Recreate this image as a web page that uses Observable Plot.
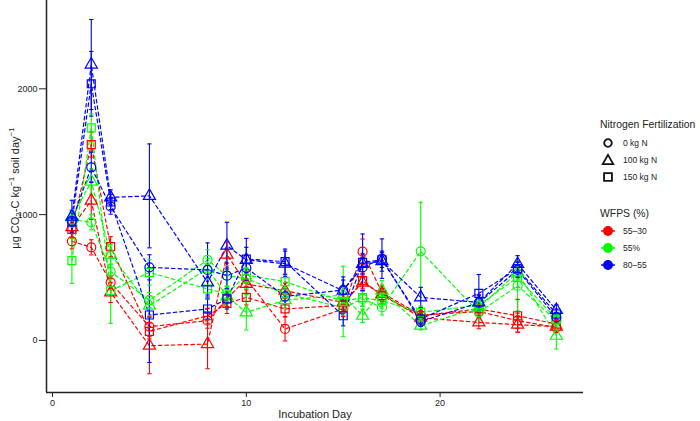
<!DOCTYPE html>
<html>
<head>
<meta charset="utf-8">
<script src="https://cdn.jsdelivr.net/npm/d3@7"></script>
<script src="https://cdn.jsdelivr.net/npm/@observablehq/plot@0.6"></script>
<style>
  html, body { margin: 0; padding: 0; background: #fff; }
  #chart { width: 700px; height: 421px; }
</style>
</head>
<body>
<div id="chart"></div>
<script>
// ---- data ----
const days = [1, 2, 3, 5, 8, 9, 10, 12, 15, 16, 17, 19, 22, 24, 26];
const wfpsLevels = ["55–30", "55%", "80–55"];
const wfpsColors = ["#ff0000", "#00ff00", "#0000ff"];
const nLevels = ["0 kg N", "100 kg N", "150 kg N"];
const nSymbols = ["circle", "triangle", "square"];
const xTicks = [0, 10, 20];
const yTicks = [0, 1000, 2000];

// means (µg CO2-C kg-1 soil day-1)
const w5530_n0   = [788, 740, 461, 110, 157, 330, 490, 91, 250, 706, 380, 200, 230, 157, 103];
const w5530_n100 = [900, 1111, 382, -42, -29, 682, 449, 395, 302, 460, 369, 180, 143, 125, 110];
const w5530_n150 = [883, 1557, 745, 72, 196, 294, 342, 250, 280, 475, 356, 196, 250, 196, 130];
const w55_n0     = [960, 939, 547, 321, 640, 515, 490, 374, 260, 330, 262, 708, 223, 435, 157];
const w55_n100   = [980, 1262, 682, 276, 570, 350, 223, 320, 360, 196, 395, 117, 262, 541, 37];
const w55_n150   = [634, 1690, 395, 541, 409, 369, 520, 467, 310, 340, 316, 223, 280, 501, 170];
const w8055_n0   = [950, 1376, 1063, 581, 560, 515, 576, 350, 400, 581, 650, 150, 300, 560, 183];
const w8055_n100 = [984, 2193, 1137, 1149, 461, 753, 640, 610, 395, 608, 630, 342, 302, 608, 242];
const w8055_n150 = [940, 2040, 1100, 202, 250, 330, 647, 626, 196, 621, 640, 170, 374, 570, 210];

// standard errors
const e5530_n0   = [60, 60, 50, 80, 60, 60, 60, 95, 60, 100, 60, 50, 50, 60, 40];
const e5530_n100 = [80, 150, 80, 223, 196, 100, 80, 60, 60, 60, 60, 50, 50, 60, 40];
const e5530_n150 = [70, 100, 80, 60, 60, 80, 60, 60, 60, 60, 60, 40, 40, 130, 40];
const e55_n0     = [60, 60, 60, 60, 80, 80, 80, 60, 60, 60, 60, 390, 60, 200, 50];
const e55_n100   = [60, 100, 80, 80, 80, 60, 140, 60, 60, 53, 80, 34, 50, 60, 105];
const e55_n150   = [180, 110, 260, 100, 80, 60, 60, 60, 280, 60, 60, 50, 50, 80, 50];
const e8055_n0   = [80, 120, 60, 100, 215, 100, 100, 60, 80, 80, 157, 40, 60, 60, 40];
const e8055_n100 = [130, 358, 60, 413, 100, 186, 100, 100, 110, 80, 80, 80, 60, 66, 40];
const e8055_n150 = [80, 257, 60, 377, 80, 80, 164, 100, 80, 225, 60, 40, 150, 60, 40];

const seriesList = [
  {wfps: "55–30", n: "0 kg N", mean: w5530_n0, se: e5530_n0},
  {wfps: "55–30", n: "100 kg N", mean: w5530_n100, se: e5530_n100},
  {wfps: "55–30", n: "150 kg N", mean: w5530_n150, se: e5530_n150},
  {wfps: "55%", n: "0 kg N", mean: w55_n0, se: e55_n0},
  {wfps: "55%", n: "100 kg N", mean: w55_n100, se: e55_n100},
  {wfps: "55%", n: "150 kg N", mean: w55_n150, se: e55_n150},
  {wfps: "80–55", n: "0 kg N", mean: w8055_n0, se: e8055_n0},
  {wfps: "80–55", n: "100 kg N", mean: w8055_n100, se: e8055_n100},
  {wfps: "80–55", n: "150 kg N", mean: w8055_n150, se: e8055_n150}
];

const rows = [];
for (const s of seriesList) {
  days.forEach((d, i) => rows.push({
    series: s.wfps + "|" + s.n, wfps: s.wfps, nitrogen: s.n,
    day: d, mean: s.mean[i], lo: s.mean[i] - s.se[i], hi: s.mean[i] + s.se[i]
  }));
}
const caps = rows.flatMap(r => [{...r, v: r.lo}, {...r, v: r.hi}]);

// horizontal cap symbol for error bars
const capSymbol = {
  draw(context, size) {
    const w = Math.sqrt(size / Math.PI);
    context.moveTo(-w, 0);
    context.lineTo(w, 0);
  }
};

const xDomain = [-0.31, 27.4];
const yDomain = [-414, 2702];

const chart = Plot.plot({
  width: 700,
  height: 421,
  marginLeft: 46,
  marginRight: 117,
  marginTop: 0,
  marginBottom: 29,
  style: {fontFamily: "'Liberation Sans', Arial, sans-serif", fontSize: "9px", color: "#222", background: "#fff"},
  x: {domain: xDomain, ticks: xTicks, tickSize: 5, tickPadding: 2, tickFormat: d3.format("d"), label: null},
  y: {domain: yDomain, ticks: yTicks, tickSize: 7, tickPadding: 2, tickFormat: d3.format("d"), label: null},
  color: {domain: wfpsLevels, range: wfpsColors},
  symbol: {domain: nLevels, range: nSymbols},
  marks: [
    Plot.line(rows, {x: "day", y: "mean", z: "series", stroke: "wfps", strokeWidth: 1.2, strokeDasharray: "3.5,3"}),
    Plot.ruleX(rows, {x: "day", y1: "lo", y2: "hi", stroke: "wfps", strokeWidth: 1.1}),
    Plot.dot(caps, {x: "day", y: "v", symbol: capSymbol, r: 2.2, stroke: "wfps", fill: "none", strokeWidth: 1.1}),
    Plot.dot(rows, {x: "day", y: "mean", symbol: "nitrogen", stroke: "wfps", fill: "none", r: 4.5, strokeWidth: 1.2}),
    Plot.ruleX([xDomain[0]], {stroke: "#222", strokeWidth: 1.5}),
    Plot.ruleY([yDomain[0]], {stroke: "#222", strokeWidth: 1.5})
  ]
});

const svg = d3.select(chart);
const font = "'Liberation Sans', Arial, sans-serif";

// y axis label with sub/superscripts
const yl = svg.append("text")
  .attr("transform", "translate(15,188) rotate(-90)")
  .attr("text-anchor", "middle")
  .attr("dominant-baseline", "central")
  .attr("font-family", font).attr("font-size", 11).attr("fill", "#222");
yl.append("tspan").text("µg CO");
yl.append("tspan").attr("dy", 3).attr("font-size", 8).text("2");
yl.append("tspan").attr("dy", -3).text("-C kg");
yl.append("tspan").attr("dy", -4).attr("font-size", 8).text("−1");
yl.append("tspan").attr("dy", 4).text(" soil day");
yl.append("tspan").attr("dy", -4).attr("font-size", 8).text("−1");

// x axis label
svg.append("text")
  .attr("x", 315).attr("y", 414)
  .attr("text-anchor", "middle").attr("dominant-baseline", "central")
  .attr("font-family", font).attr("font-size", 11).attr("fill", "#222")
  .text("Incubation Day");

// legends
const lg = svg.append("g").attr("font-family", font).attr("fill", "#222").attr("text-anchor", "start");
lg.append("text").attr("x", 600).attr("y", 124).attr("dominant-baseline", "central")
  .attr("font-size", 10.4).text("Nitrogen Fertilization");
nLevels.forEach((lab, i) => {
  const y = 143 + i * 17;
  const sym = [d3.symbolCircle, d3.symbolTriangle, d3.symbolSquare][i];
  const area = [Math.PI * 3.8 * 3.8, 48, 62][i];
  lg.append("path")
    .attr("d", d3.symbol(sym, area)())
    .attr("transform", `translate(608,${y + (i === 1 ? 1 : 0)})`)
    .attr("fill", "none").attr("stroke", "#111").attr("stroke-width", 1.8);
  lg.append("text").attr("x", 623).attr("y", y).attr("dominant-baseline", "central")
    .attr("font-size", 8.5).text(lab);
});
lg.append("text").attr("x", 600).attr("y", 213).attr("dominant-baseline", "central")
  .attr("font-size", 10.4).text("WFPS (%)");
wfpsLevels.forEach((lab, i) => {
  const y = 231 + i * 17;
  lg.append("line").attr("x1", 601).attr("x2", 615).attr("y1", y).attr("y2", y)
    .attr("stroke", wfpsColors[i]).attr("stroke-width", 1.5);
  lg.append("circle").attr("cx", 608).attr("cy", y).attr("r", 5).attr("fill", wfpsColors[i]);
  lg.append("text").attr("x", 623).attr("y", y).attr("dominant-baseline", "central")
    .attr("font-size", 8.5).text(lab);
});

document.getElementById("chart").appendChild(chart);
</script>
</body>
</html>
